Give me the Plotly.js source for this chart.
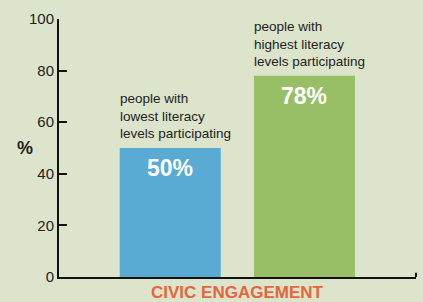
<!DOCTYPE html>
<html><head><meta charset="utf-8">
<script src="https://cdn.plot.ly/plotly-3.0.1.min.js"></script>
<style>html,body{margin:0;padding:0;background:#dce5cb;}#chart{width:423px;height:302px;}</style>
</head><body><div id="chart"></div>
<script>
const categories = ['lowest', 'highest'];
const values = [50, 78];
const barColors = ['#5aabd3', '#98bf66'];
const descriptions = ['people with<br>lowest literacy<br>levels participating', 'people with<br>highest literacy<br>levels participating'];
const valueLabels = ['50%', '78%'];
const yTicks = [0, 20, 40, 60, 80, 100];
const xTitle = 'CIVIC ENGAGEMENT';

const xIdx = categories.map((c, i) => i);
const barW = 0.753;

const annotations = [];
xIdx.forEach((x, i) => {
  annotations.push({
    x: x - barW / 2, y: values[i], xref: 'x', yref: 'y',
    text: descriptions[i], showarrow: false, xanchor: 'left', yanchor: 'bottom', align: 'left',
    yshift: 5, xshift: -2,
    font: {family: 'Liberation Sans', size: 13.5, color: '#222222'}
  });
  annotations.push({
    x: x, y: values[i], xref: 'x', yref: 'y',
    text: '<b>' + valueLabels[i] + '</b>', showarrow: false, xanchor: 'center', yanchor: 'middle',
    yshift: -20,
    font: {family: 'Liberation Sans', size: 23, color: '#ffffff'}
  });
});
annotations.push({
  x: -0.095, y: 0.5, xref: 'paper', yref: 'paper', text: '<b>%</b>', showarrow: false,
  xanchor: 'center', yanchor: 'middle', font: {family: 'Liberation Sans', size: 18, color: '#222222'}
});
annotations.push({
  x: 0.5, y: 0, xref: 'x', yref: 'paper', text: '<b>' + xTitle + '</b>', showarrow: false,
  xanchor: 'center', yanchor: 'top', yshift: -4,
  font: {family: 'Liberation Sans', size: 17, color: '#e8643a'}
});

const data = [{
  type: 'bar', x: xIdx, y: values, width: barW,
  marker: {color: barColors, line: {width: 0}},
  hoverinfo: 'none'
}];

const layout = {
  width: 423, height: 302,
  margin: {l: 59, r: 7, t: 19, b: 25},
  paper_bgcolor: '#dce5cb', plot_bgcolor: '#dce5cb',
  showlegend: false,
  xaxis: {range: [-0.829, 1.831], showgrid: false, zeroline: false, showticklabels: false,
          showline: true, linecolor: '#111111', linewidth: 2, ticks: ''},
  yaxis: {range: [0, 100], tickvals: yTicks, showgrid: false, zeroline: false,
          showline: true, linecolor: '#111111', linewidth: 2,
          ticks: 'inside', ticklen: 8, tickwidth: 2, tickcolor: '#111111',
          tickfont: {family: 'Liberation Sans', size: 15, color: '#222222'}},
  shapes: [{type: 'line', xref: 'paper', yref: 'y', x0: 1, x1: 1, y0: 0, y1: 1.6,
            line: {color: '#111111', width: 2}}],
  annotations: annotations
};

Plotly.newPlot('chart', data, layout, {displayModeBar: false, staticPlot: true});
</script></body></html>
